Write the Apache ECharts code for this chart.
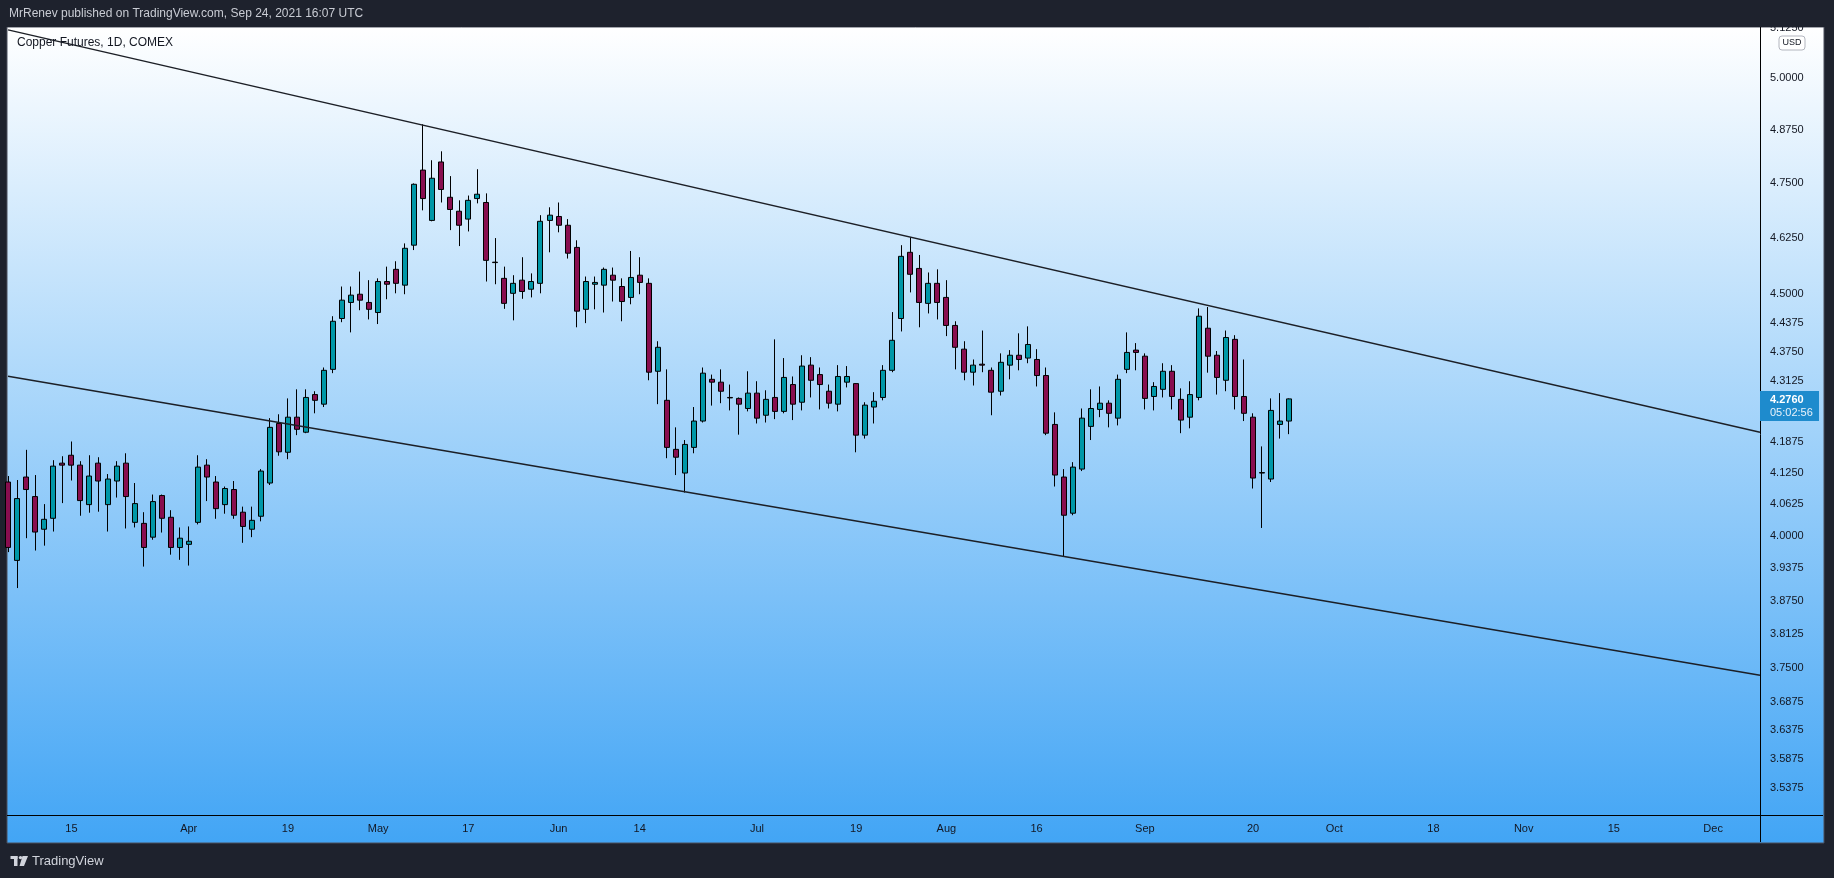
<!DOCTYPE html>
<html>
<head>
<meta charset="utf-8">
<script src="https://cdn.jsdelivr.net/npm/echarts@6/dist/echarts.min.js"></script>
<style>
  html, body { margin: 0; padding: 0; background: #1e222d; }
  #chart { width: 1834px; height: 878px; }
</style>
</head>
<body>
<div id="chart"></div>
<script>
// trading days shown on the time axis (holidays skipped)
const firstDay = '2021-03-04';
const lastDay = '2021-12-10';
const holidays = ['2021-04-02', '2021-05-31', '2021-07-05', '2021-09-06', '2021-11-25'];

// daily candles, Mar 4 .. Sep 24 2021 (USD)
const opens = [
  4.106, 3.952, 4.116, 4.077, 4.0125, 4.034, 4.144, 4.160, 4.140, 4.061,
  4.144, 4.061, 4.108, 4.144, 4.026, 4.024, 3.997, 4.079, 4.036, 3.977,
  3.983, 4.026, 4.140, 4.106, 4.061, 4.091, 4.046, 4.0125, 4.038, 4.104,
  4.225, 4.166, 4.238, 4.207, 4.285, 4.265, 4.338, 4.447, 4.482, 4.500,
  4.482, 4.460, 4.528, 4.555, 4.520, 4.609, 4.781, 4.665, 4.800, 4.718,
  4.686, 4.668, 4.715, 4.706, 4.571, 4.535, 4.502, 4.531, 4.511, 4.524,
  4.665, 4.674, 4.654, 4.604, 4.467, 4.522, 4.520, 4.542, 4.517, 4.493,
  4.542, 4.524, 4.334, 4.273, 4.172, 4.124, 4.176, 4.230, 4.317, 4.311,
  4.279, 4.277, 4.256, 4.288, 4.242, 4.279, 4.250, 4.306, 4.269, 4.347,
  4.327, 4.292, 4.265, 4.311, 4.308, 4.201, 4.259, 4.279, 4.336, 4.447,
  4.593, 4.557, 4.480, 4.524, 4.493, 4.432, 4.381, 4.332, 4.349, 4.336,
  4.292, 4.347, 4.368, 4.362, 4.359, 4.325, 4.223, 4.116, 4.044, 4.132,
  4.219, 4.254, 4.267, 4.236, 4.338, 4.379, 4.366, 4.281, 4.296, 4.334,
  4.275, 4.238, 4.279, 4.426, 4.368, 4.315, 4.402, 4.281, 4.238, 4.125,
  4.112, 4.223, 4.230
];
const closes = [
  3.977, 4.073, 4.091, 4.007, 4.032, 4.138, 4.140, 4.140, 4.069, 4.118,
  4.108, 4.112, 4.138, 4.077, 4.063, 3.977, 4.067, 4.034, 3.977, 3.995,
  3.989, 4.136, 4.116, 4.053, 4.093, 4.040, 4.018, 4.030, 4.128, 4.217,
  4.167, 4.238, 4.213, 4.279, 4.273, 4.336, 4.441, 4.487, 4.498, 4.487,
  4.467, 4.528, 4.522, 4.524, 4.602, 4.748, 4.715, 4.762, 4.736, 4.690,
  4.654, 4.711, 4.725, 4.575, 4.570, 4.480, 4.524, 4.506, 4.528, 4.663,
  4.677, 4.654, 4.591, 4.463, 4.528, 4.526, 4.555, 4.531, 4.484, 4.537,
  4.526, 4.332, 4.385, 4.176, 4.156, 4.182, 4.230, 4.330, 4.311, 4.292,
  4.278, 4.265, 4.288, 4.236, 4.275, 4.250, 4.321, 4.265, 4.345, 4.315,
  4.306, 4.267, 4.323, 4.323, 4.201, 4.263, 4.271, 4.336, 4.400, 4.584,
  4.544, 4.482, 4.524, 4.482, 4.432, 4.385, 4.332, 4.347, 4.347, 4.290,
  4.353, 4.368, 4.359, 4.391, 4.325, 4.205, 4.120, 4.040, 4.136, 4.236,
  4.256, 4.267, 4.246, 4.317, 4.374, 4.374, 4.277, 4.302, 4.334, 4.281,
  4.232, 4.285, 4.452, 4.366, 4.321, 4.406, 4.281, 4.246, 4.114, 4.124,
  4.252, 4.230, 4.276
];
const lows = [
  3.968, 3.899, 3.995, 3.971, 3.9805, 4.008, 4.064, 4.109, 4.039, 4.045,
  4.047, 4.008, 4.075, 4.014, 4.016, 3.940, 3.992, 4.006, 3.963, 3.953,
  3.942, 4.022, 4.068, 4.033, 4.043, 4.033, 3.986, 3.997, 4.028, 4.100,
  4.159, 4.152, 4.201, 4.205, 4.246, 4.259, 4.330, 4.439, 4.417, 4.465,
  4.445, 4.435, 4.489, 4.502, 4.500, 4.598, 4.688, 4.663, 4.706, 4.643,
  4.607, 4.640, 4.704, 4.528, 4.522, 4.468, 4.443, 4.490, 4.493, 4.502,
  4.593, 4.638, 4.579, 4.428, 4.437, 4.467, 4.460, 4.484, 4.441, 4.478,
  4.500, 4.315, 4.265, 4.154, 4.120, 4.085, 4.164, 4.227, 4.262, 4.267,
  4.252, 4.202, 4.250, 4.225, 4.227, 4.234, 4.246, 4.232, 4.252, 4.279,
  4.254, 4.256, 4.250, 4.300, 4.166, 4.194, 4.225, 4.273, 4.332, 4.419,
  4.504, 4.428, 4.458, 4.445, 4.409, 4.338, 4.315, 4.304, 4.332, 4.242,
  4.283, 4.317, 4.336, 4.351, 4.302, 4.201, 4.097, 3.960, 4.040, 4.128,
  4.191, 4.238, 4.217, 4.221, 4.330, 4.336, 4.254, 4.252, 4.279, 4.254,
  4.205, 4.215, 4.273, 4.331, 4.285, 4.292, 4.254, 4.230, 4.093, 4.015,
  4.106, 4.194, 4.203
];
const highs = [
  4.118, 4.110, 4.171, 4.120, 4.062, 4.150, 4.158, 4.188, 4.148, 4.160,
  4.156, 4.122, 4.148, 4.164, 4.104, 4.046, 4.081, 4.081, 4.050, 4.016,
  4.018, 4.160, 4.152, 4.118, 4.097, 4.108, 4.057, 4.057, 4.132, 4.236,
  4.244, 4.277, 4.296, 4.296, 4.292, 4.342, 4.452, 4.517, 4.517, 4.550,
  4.531, 4.535, 4.561, 4.573, 4.613, 4.750, 4.889, 4.804, 4.825, 4.767,
  4.711, 4.722, 4.783, 4.727, 4.625, 4.561, 4.542, 4.582, 4.546, 4.677,
  4.695, 4.706, 4.668, 4.620, 4.539, 4.539, 4.559, 4.559, 4.535, 4.596,
  4.582, 4.535, 4.398, 4.338, 4.217, 4.191, 4.259, 4.342, 4.327, 4.338,
  4.306, 4.279, 4.334, 4.313, 4.294, 4.402, 4.362, 4.323, 4.368, 4.364,
  4.342, 4.306, 4.347, 4.345, 4.309, 4.269, 4.290, 4.347, 4.461, 4.609,
  4.627, 4.587, 4.548, 4.555, 4.531, 4.441, 4.398, 4.359, 4.421, 4.342,
  4.372, 4.379, 4.415, 4.430, 4.381, 4.342, 4.248, 4.132, 4.146, 4.256,
  4.296, 4.302, 4.273, 4.327, 4.417, 4.394, 4.372, 4.311, 4.351, 4.347,
  4.298, 4.313, 4.469, 4.472, 4.377, 4.421, 4.411, 4.359, 4.246, 4.178,
  4.277, 4.288, 4.277
];

// channel lines: [bar index, price] at the left and right edge of the pane
const upperLine = [[-0.03, 5.1195], [194.2, 4.2069]];
const lowerLine = [[-0.03, 4.3234], [194.2, 3.7365]];

// axis labels
const priceTicks = [5.125, 5.0, 4.875, 4.75, 4.625, 4.5, 4.4375, 4.375, 4.3125,
  4.1875, 4.125, 4.0625, 4.0, 3.9375, 3.875, 3.8125, 3.75, 3.6875, 3.6375, 3.5875, 3.5375];
const xLabelDates = ['2021-03-15', '2021-04-01', '2021-04-19', '2021-05-03', '2021-05-17',
  '2021-06-01', '2021-06-14', '2021-07-01', '2021-07-19', '2021-08-02', '2021-08-16',
  '2021-09-01', '2021-09-20', '2021-10-01', '2021-10-18', '2021-11-01', '2021-11-15', '2021-12-01'];
const xLabelTexts = ['15', 'Apr', '19', 'May', '17', 'Jun', '14', 'Jul', '19', 'Aug', '16',
  'Sep', '20', 'Oct', '18', 'Nov', '15', 'Dec'];

const lastPrice = 4.2760;
const countdown = '05:02:56';
const priceMin = 3.4903, priceMax = 5.1267;   // visible price range
const viewStart = -0.033, viewEnd = 194.2;    // visible bar range

const font = "'Liberation Sans', Arial, sans-serif";
const ink = '#131722';

function tradingDays(from, to, skip) {
  const out = [];
  const d = new Date(from + 'T00:00:00Z');
  const end = new Date(to + 'T00:00:00Z');
  while (d <= end) {
    const s = d.toISOString().slice(0, 10);
    const wd = d.getUTCDay();
    if (wd !== 0 && wd !== 6 && skip.indexOf(s) < 0) out.push(s);
    d.setUTCDate(d.getUTCDate() + 1);
  }
  return out;
}

const days = tradingDays(firstDay, lastDay, holidays);
const labelIdx = xLabelDates.map(d => days.indexOf(d));
const ln = Math.log;

// price scale is logarithmic: plot ln(price)
const candleData = opens.map((o, i) => [i, ln(o), ln(closes[i]), ln(lows[i]), ln(highs[i])]);
const lineData = pts => pts.map(p => [p[0], ln(p[1])]);

const chart = echarts.init(document.getElementById('chart'));

chart.setOption({
  animation: false,
  backgroundColor: '#1e222d',
  grid: { left: 8, right: 74, top: 27, bottom: 63 },
  xAxis: {
    type: 'value',
    min: viewStart,
    max: viewEnd,
    axisLine: { show: false },
    axisTick: { show: false },
    splitLine: { show: false },
    axisLabel: {
      customValues: labelIdx,
      formatter: v => xLabelTexts[labelIdx.indexOf(v)],
      color: ink,
      fontSize: 11,
      fontFamily: font,
      margin: 8
    }
  },
  yAxis: {
    type: 'value',
    position: 'right',
    min: ln(priceMin),
    max: ln(priceMax),
    axisLine: { show: false },
    axisTick: { show: false },
    splitLine: { show: false },
    axisLabel: {
      customValues: priceTicks.map(ln),
      formatter: v => Math.exp(v).toFixed(4),
      color: ink,
      fontSize: 11,
      fontFamily: font,
      margin: 10
    }
  },
  series: [
    {
      type: 'candlestick',
      data: candleData,
      barWidth: 5.5,
      clip: true,
      silent: true,
      itemStyle: {
        color: '#0097a7',
        color0: '#880e4f',
        borderColor: '#000000',
        borderColor0: '#000000',
        borderWidth: 1
      }
    },
    {
      type: 'line',
      data: lineData(upperLine),
      symbol: 'none',
      silent: true,
      lineStyle: { color: '#1c1f26', width: 1.4 }
    },
    {
      type: 'line',
      data: lineData(lowerLine),
      symbol: 'none',
      silent: true,
      lineStyle: { color: '#1c1f26', width: 1.4 }
    }
  ],
  graphic: { elements: [
    {
      id: 'pane', type: 'rect', z: -100,
      shape: { x: 7, y: 27, width: 1817, height: 816 },
      style: {
        fill: new echarts.graphic.LinearGradient(0, 0, 0, 1, [
          { offset: 0, color: '#ffffff' },
          { offset: 1, color: '#42a5f5' }
        ]),
        stroke: '#4a4f5c', lineWidth: 1
      }
    },
    { id: 'topbar', type: 'rect', z: 100, shape: { x: 0, y: 0, width: 1834, height: 27 }, style: { fill: '#1e222d' } },
    { id: 'vsep', type: 'line', z: 50, shape: { x1: 1760.5, y1: 27, x2: 1760.5, y2: 842 }, style: { stroke: '#000', lineWidth: 1 } },
    { id: 'hsep', type: 'line', z: 50, shape: { x1: 7, y1: 815.5, x2: 1823, y2: 815.5 }, style: { stroke: '#000', lineWidth: 1 } },
    {
      id: 'pub', type: 'text', z: 101, x: 9, y: 14,
      style: { text: 'MrRenev published on TradingView.com, Sep 24, 2021 16:07 UTC', fill: '#c9ccd4', font: '12px ' + font, verticalAlign: 'middle' }
    },
    {
      id: 'legend', type: 'text', z: 60, x: 17, y: 43,
      style: { text: 'Copper Futures, 1D, COMEX', fill: ink, font: '12px ' + font, verticalAlign: 'middle' }
    },
    {
      id: 'usdbox', type: 'rect', z: 60,
      shape: { x: 1779, y: 36, width: 26, height: 14, r: 3 },
      style: { fill: '#ffffff', stroke: '#b2b5be', lineWidth: 1 }
    },
    {
      id: 'usd', type: 'text', z: 61, x: 1792, y: 43,
      style: { text: 'USD', fill: ink, font: '9px ' + font, align: 'center', verticalAlign: 'middle' }
    },
    { id: 'logo1', type: 'rect', z: 60, shape: { x: 10.5, y: 856, width: 7, height: 3 }, style: { fill: '#d1d4dc' } },
    { id: 'logo2', type: 'rect', z: 60, shape: { x: 14, y: 856, width: 3.5, height: 10 }, style: { fill: '#d1d4dc' } },
    { id: 'logo3', type: 'circle', z: 60, shape: { cx: 20.5, cy: 857.6, r: 1.7 }, style: { fill: '#d1d4dc' } },
    { id: 'logo4', type: 'polygon', z: 60, shape: { points: [[22.5, 856], [28, 856], [24, 866], [19.5, 866]] }, style: { fill: '#d1d4dc' } },
    {
      id: 'brand', type: 'text', z: 60, x: 32, y: 861,
      style: { text: 'TradingView', fill: '#d1d4dc', font: '13px ' + font, verticalAlign: 'middle' }
    }
  ] }
});

// last price badge on the price scale
const py = chart.convertToPixel({ yAxisIndex: 0 }, ln(lastPrice));
chart.setOption({
  graphic: { elements: [
    { id: 'pbox', type: 'rect', z: 70, shape: { x: 1760, y: py - 8, width: 59, height: 30 }, style: { fill: '#1e8bcd' } },
    {
      id: 'ptxt', type: 'text', z: 71, x: 1770, y: py + 1,
      style: { text: lastPrice.toFixed(4), fill: '#ffffff', font: 'bold 11px ' + font, verticalAlign: 'middle' }
    },
    {
      id: 'ctxt', type: 'text', z: 71, x: 1770, y: py + 14,
      style: { text: countdown, fill: '#e8f2fa', font: '11px ' + font, verticalAlign: 'middle' }
    }
  ] }
});
</script>
</body>
</html>
